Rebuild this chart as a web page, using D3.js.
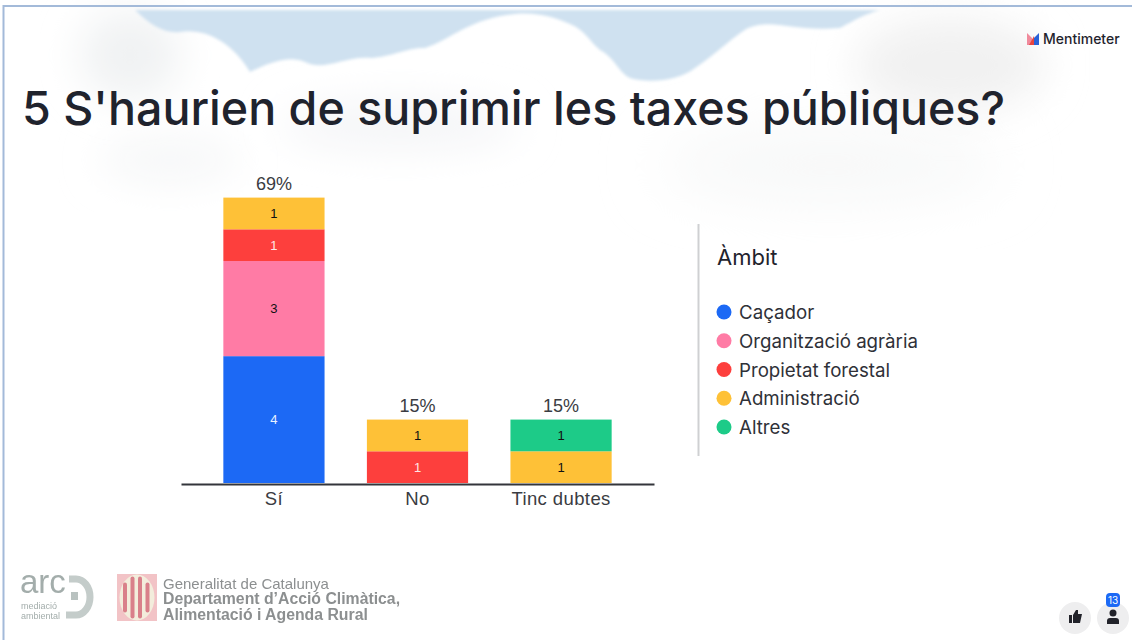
<!DOCTYPE html>
<html>
<head>
<meta charset="utf-8">
<script src="https://cdn.jsdelivr.net/npm/d3@7"></script>
<style>
    html, body { margin: 0; padding: 0; background: #fff; overflow: hidden; }
    svg { display: block; font-family: Inter, "Open Sans", sans-serif; }
</style>
</head>
<body>
<div id="graph-container"></div>
<script>
// Chart data
const categories = ["Sí", "No", "Tinc dubtes"];
const percentLabels = ["69%", "15%", "15%"];
const groups = ["Caçador", "Organització agrària", "Propietat forestal", "Administració", "Altres"];
const cacador = [4, 0, 0];
const organitzacio = [3, 0, 0];
const propietat = [1, 1, 0];
const administracio = [1, 1, 1];
const altres = [0, 0, 1];
const groupColors = ["#1c69f5", "#ff7ba5", "#fd3f3d", "#fec137", "#1dcb88"];
const labelColors = ["#e8f1ff", "#111", "#ffe6e6", "#111", "#111"];

const svgWidth = 1132;
const svgHeight = 640;
const axisY = 484;

const svg = d3.select("#graph-container").append("svg")
    .attr("width", svgWidth)
    .attr("height", svgHeight);

// Cloudy sky behind the title
const defs = svg.append("defs");
function blurFilter(id, amount) {
    defs.append("filter").attr("id", id)
        .attr("x", "-40%").attr("y", "-80%").attr("width", "180%").attr("height", "260%")
        .append("feGaussianBlur").attr("stdDeviation", amount);
}
blurFilter("edge", 1.6);
blurFilter("soft", 20);
blurFilter("softer", 30);
blurFilter("logo", 0.45);

const bg = svg.append("g");
bg.append("rect").attr("width", svgWidth).attr("height", svgHeight).attr("fill", "#fff");
// grey cloud shading
bg.append("ellipse").attr("cx", 130).attr("cy", 55).attr("rx", 50).attr("ry", 45).attr("fill", "#f0f2f3").attr("filter", "url(#soft)");
bg.append("ellipse").attr("cx", 950).attr("cy", 65).attr("rx", 95).attr("ry", 48).attr("fill", "#f1f1f1").attr("filter", "url(#soft)");
bg.append("ellipse").attr("cx", 830).attr("cy", 165).attr("rx", 170).attr("ry", 32).attr("fill", "#f6f7f7").attr("filter", "url(#softer)");
bg.append("ellipse").attr("cx", 400).attr("cy", 125).attr("rx", 120).attr("ry", 24).attr("fill", "#f4f5f7").attr("filter", "url(#soft)");
bg.append("ellipse").attr("cx", 170).attr("cy", 160).attr("rx", 70).attr("ry", 20).attr("fill", "#f5f6f7").attr("filter", "url(#soft)");
// blue patch with a scalloped cloud edge
bg.append("path")
    .attr("d", "M135,10 C150,25 165,34 180,32 C205,28 232,42 250,72 C270,62 290,55 305,62 C325,72 345,55 372,58 C395,56 405,48 425,48 C450,40 470,18 515,14 C540,12 555,18 570,24 C585,30 590,42 600,50 C615,58 618,72 630,78 C650,84 680,80 695,68 C715,55 735,35 748,28 C775,18 790,32 840,28 C855,20 865,14 880,10 Z")
    .attr("fill", "#cfe1f0")
    .attr("filter", "url(#edge)");

// Thin window border
svg.append("path").attr("d", "M3.5,640V6H1132").attr("fill", "none").attr("stroke", "#a3bad9").attr("stroke-width", 2);

// Title
svg.append("text")
    .attr("x", 22).attr("y", 125)
    .attr("font-size", 46.6).attr("font-weight", 500).attr("fill", "#1f232d")
    .text("5 S'haurien de suprimir les taxes públiques?");

// Scales
const x = d3.scaleBand()
    .domain(categories)
    .range([181, 654])
    .padding(0.295);

const y = d3.scaleLinear()
    .domain([0, 9])
    .range([483, 197.6]);

const color = d3.scaleOrdinal().domain(groups).range(groupColors);

// Stacked bars
const rows = categories.map((c, i) => ({
    category: c,
    "Caçador": cacador[i],
    "Organització agrària": organitzacio[i],
    "Propietat forestal": propietat[i],
    "Administració": administracio[i],
    "Altres": altres[i]
}));
const stacked = d3.stack().keys(groups)(rows);

const layers = svg.selectAll(".layer")
    .data(stacked)
    .enter().append("g")
    .attr("class", "layer")
    .attr("fill", d => color(d.key));

layers.selectAll("rect")
    .data(d => d.filter(s => s[1] > s[0]))
    .enter().append("rect")
    .attr("x", d => x(d.data.category))
    .attr("y", d => y(d[1]))
    .attr("width", x.bandwidth())
    .attr("height", d => y(d[0]) - y(d[1]));

layers.selectAll("text")
    .data((d, i) => d.filter(s => s[1] > s[0]).map(s => ({ s, fill: labelColors[i] })))
    .enter().append("text")
    .attr("x", d => x(d.s.data.category) + x.bandwidth() / 2)
    .attr("y", d => y((d.s[0] + d.s[1]) / 2) + 4.5)
    .attr("text-anchor", "middle")
    .attr("font-family", "Liberation Sans, sans-serif")
    .attr("font-size", 13)
    .attr("fill", d => d.fill)
    .text(d => d.s[1] - d.s[0]);

// Percent over each bar
svg.selectAll(".pct")
    .data(categories)
    .enter().append("text")
    .attr("class", "pct")
    .attr("x", d => x(d) + x.bandwidth() / 2)
    .attr("y", (d, i) => y(d3.sum(stacked, l => l[i][1] - l[i][0])) - 8)
    .attr("text-anchor", "middle")
    .attr("font-family", "Liberation Sans, sans-serif")
    .attr("font-size", 18)
    .attr("fill", "#3a3c42")
    .text((d, i) => percentLabels[i]);

// X axis
const xAxis = svg.append("g")
    .attr("transform", `translate(0, ${axisY})`)
    .call(d3.axisBottom(x).tickSize(0).tickPadding(8));
xAxis.select(".domain").attr("stroke", "#33353b").attr("stroke-width", 2);
xAxis.selectAll("text")
    .attr("font-family", "Liberation Sans, sans-serif")
    .attr("font-size", 18.5)
    .attr("letter-spacing", 0.4)
    .attr("fill", "#3a3c42");

// Legend
svg.append("line")
    .attr("x1", 698.5).attr("x2", 698.5).attr("y1", 224).attr("y2", 456)
    .attr("stroke", "#cfd0d2").attr("stroke-width", 2);

svg.append("text")
    .attr("x", 717).attr("y", 265)
    .attr("font-size", 22).attr("fill", "#1f232d")
    .text("Àmbit");

const legendY = d3.scalePoint().domain(groups).range([312, 427]);
const legend = svg.selectAll(".legend-item")
    .data(groups)
    .enter().append("g")
    .attr("class", "legend-item")
    .attr("transform", d => `translate(724, ${legendY(d)})`);
legend.append("circle").attr("r", 7.5).attr("fill", d => color(d));
legend.append("text")
    .attr("x", 15).attr("y", 7)
    .attr("font-size", 18.7).attr("fill", "#2f3138")
    .text(d => d);

// Mentimeter mark
const brand = svg.append("g").attr("transform", "translate(1027, 33)");
brand.append("path").attr("d", "M0,0L5,5V12H0Z").attr("fill", "#f08a9c");
brand.append("path").attr("d", "M2,12L7,3L8,12Z").attr("fill", "#e8443e");
brand.append("path").attr("d", "M12,0V12H7L7,5Z").attr("fill", "#2a62d8");
svg.append("text")
    .attr("x", 1043).attr("y", 44)
    .attr("font-size", 14).attr("font-weight", 500).attr("fill", "#1f232d")
    .text("Mentimeter");

// Footer logos
const arc = svg.append("g").attr("fill", "#a3adab").attr("filter", "url(#logo)");
arc.append("text").attr("x", 20).attr("y", 593)
    .attr("font-family", "Liberation Sans, sans-serif").attr("font-size", 33).text("arc");
arc.append("text").attr("x", 21).attr("y", 608.5)
    .attr("font-family", "Liberation Sans, sans-serif").attr("font-size", 9).text("mediació");
arc.append("text").attr("x", 21).attr("y", 618.5)
    .attr("font-family", "Liberation Sans, sans-serif").attr("font-size", 9).text("ambiental");
arc.append("path")
    .attr("d", "M69,579H76A14,18 0 0 1 76,615H66")
    .attr("fill", "none").attr("stroke", "#c4ccca").attr("stroke-width", 7);
arc.append("rect").attr("x", 71).attr("y", 592).attr("width", 7).attr("height", 8).attr("fill", "#b9c2c0");

const shield = svg.append("g").attr("filter", "url(#logo)");
shield.append("rect").attr("x", 117).attr("y", 574).attr("width", 40).attr("height", 47).attr("fill", "#f2c3c6");
shield.append("ellipse").attr("cx", 137).attr("cy", 597.5).attr("rx", 17.5).attr("ry", 23).attr("fill", "#f3eddc");
[123, 130.5, 138, 145.5].forEach((sx, i) => {
    const half = i === 0 || i === 3 ? 15 : 21;
    shield.append("rect").attr("x", sx).attr("y", 597.5 - half).attr("width", 4).attr("height", half * 2).attr("rx", 2).attr("fill", "#d9808a");
});

const gen = svg.append("g").attr("font-family", "Liberation Sans, sans-serif").attr("fill", "#8c8f90").attr("filter", "url(#logo)");
gen.append("text").attr("x", 163).attr("y", 589).attr("font-size", 15).text("Generalitat de Catalunya");
gen.append("text").attr("x", 163).attr("y", 604).attr("font-size", 15.8).attr("font-weight", 700).text("Departament d’Acció Climàtica,");
gen.append("text").attr("x", 163).attr("y", 620).attr("font-size", 15.8).attr("font-weight", 700).text("Alimentació i Agenda Rural");

// Reaction buttons
svg.append("circle").attr("cx", 1075).attr("cy", 618).attr("r", 16).attr("fill", "#eeeeef");
svg.append("circle").attr("cx", 1113).attr("cy", 618).attr("r", 16).attr("fill", "#eeeeef");
svg.append("path")
    .attr("d", "M1069,615H1072V623H1069ZM1073,615L1076,610H1078V614H1082L1080,623H1073Z")
    .attr("fill", "#22232a");
svg.append("circle").attr("cx", 1113).attr("cy", 613).attr("r", 3.5).attr("fill", "#22232a");
svg.append("path").attr("d", "M1107,624V621Q1107,618 1110,618H1116Q1119,618 1119,621V624Z").attr("fill", "#22232a");
svg.append("rect").attr("x", 1106).attr("y", 593).attr("width", 14).attr("height", 14).attr("rx", 4).attr("fill", "#1c69f5");
svg.append("text")
    .attr("x", 1113).attr("y", 604)
    .attr("text-anchor", "middle")
    .attr("font-size", 10).attr("fill", "#fff")
    .text("13");
</script>
</body>
</html>
